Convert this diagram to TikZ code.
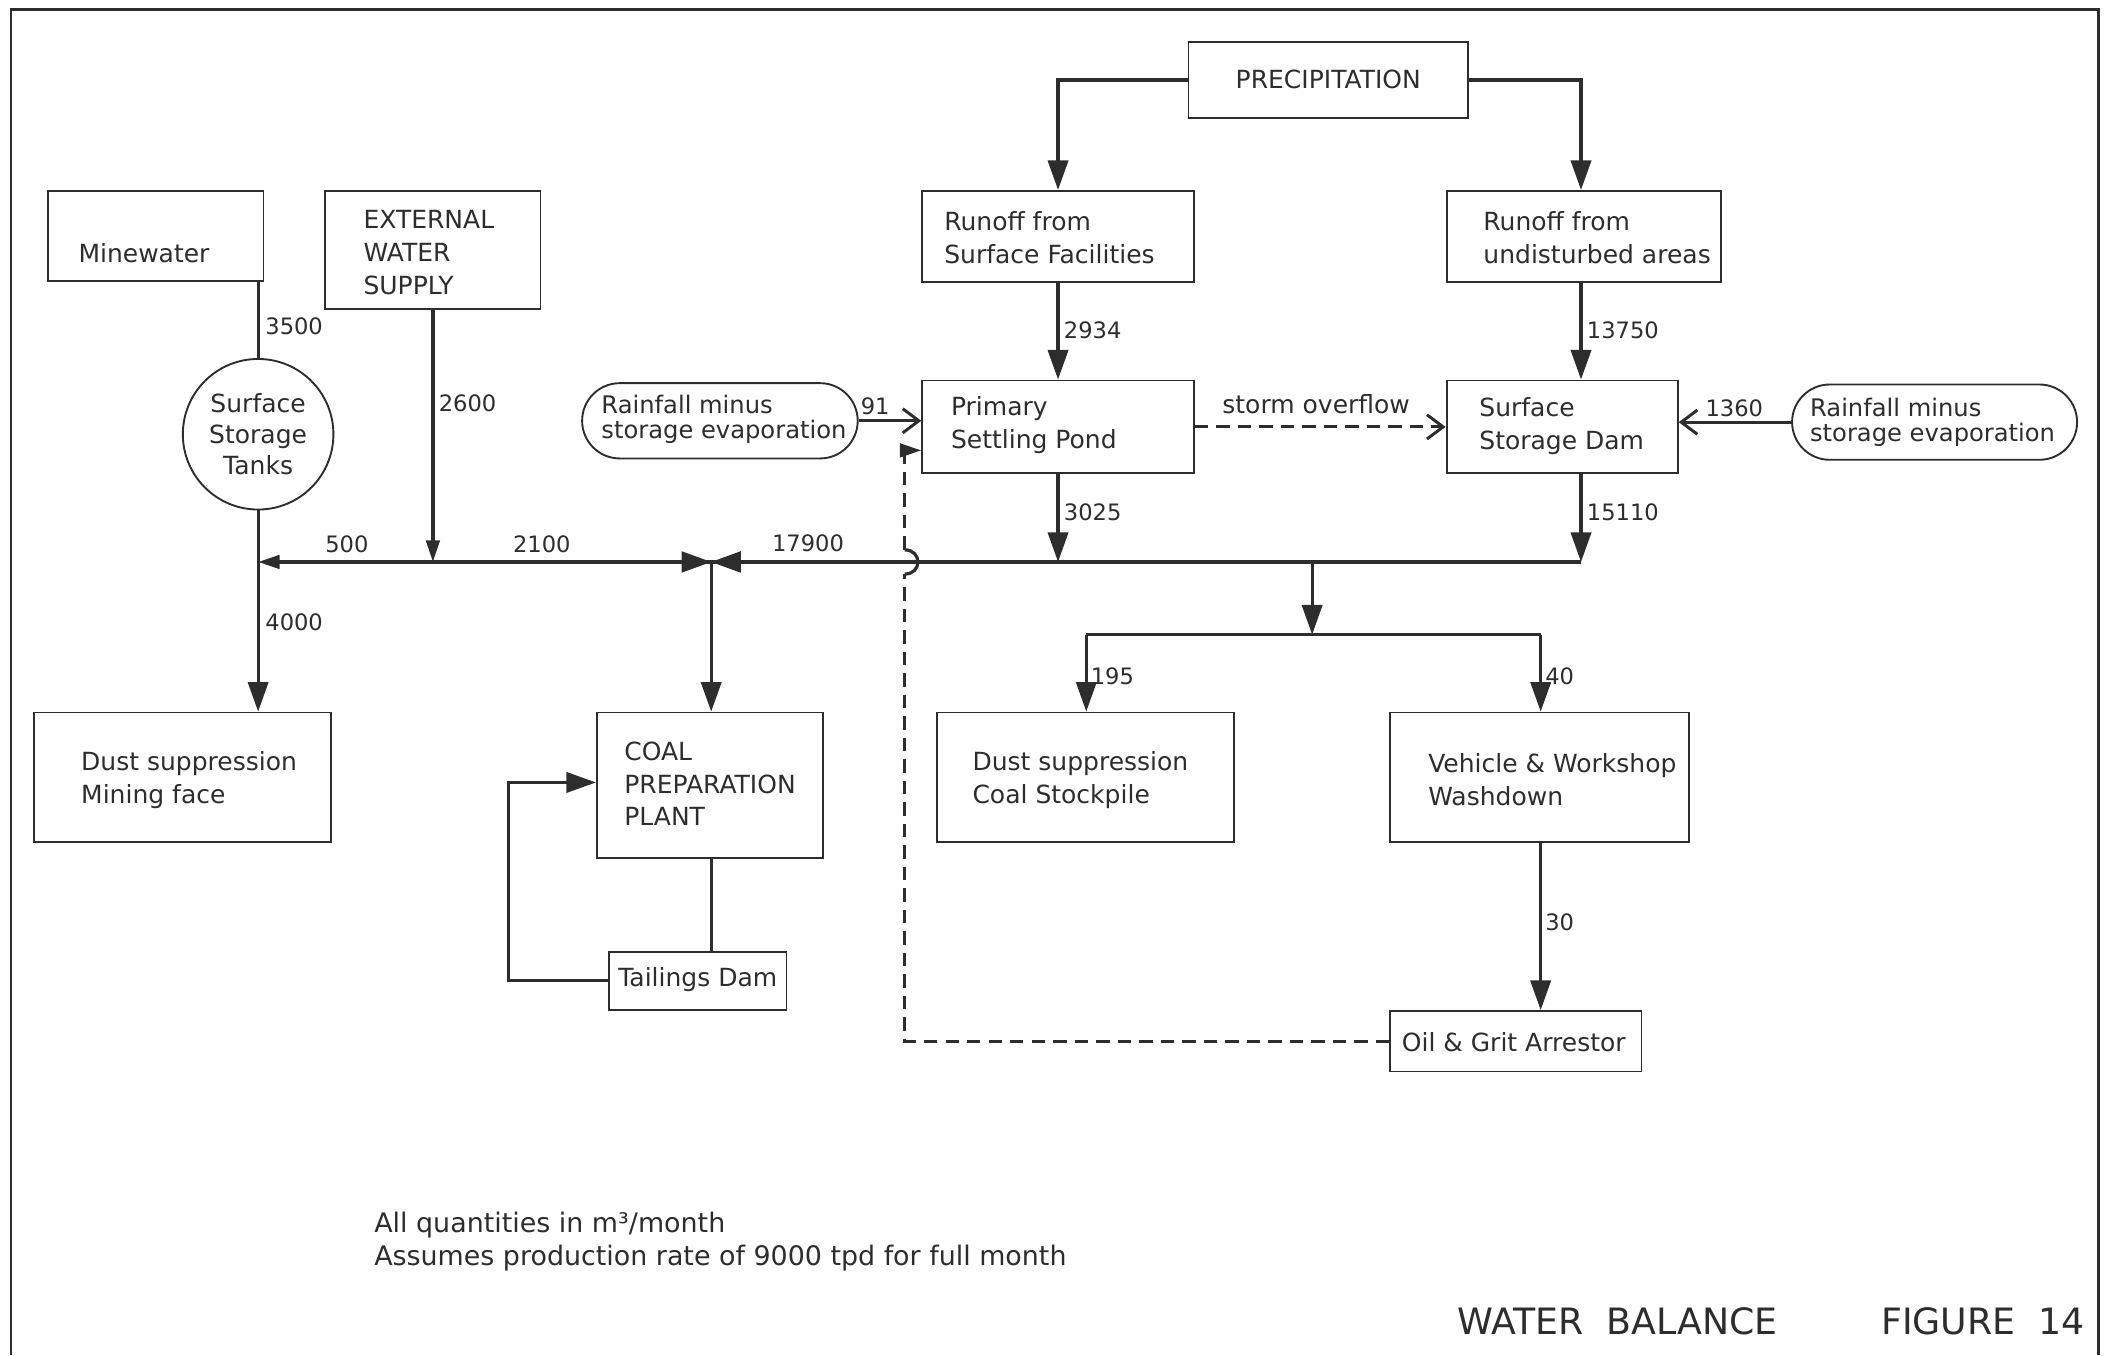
\documentclass[tikz,border=0pt]{standalone}
\usepackage{fontspec}
\setmainfont{DejaVu Sans}
\usetikzlibrary{arrows.meta,fit,calc}
\definecolor{ink}{RGB}{45,45,45}
\begin{document}
\begin{tikzpicture}[x=0.5pt,y=-0.5pt,
  box/.style={draw=ink, line width=0.7pt, inner sep=0pt},
  txt/.style={font=\fontsize{9.3}{12.2}\selectfont, align=left, inner sep=0pt, text=ink},
  rtxt/.style={font=\fontsize{9.0}{9.4}\selectfont, align=left, inner sep=0pt, text=ink},
  num/.style={font=\fontsize{8.4}{10}\selectfont, inner sep=0pt, text=ink},
  note/.style={font=\fontsize{10}{12}\selectfont, inner sep=0pt, text=ink},
  title/.style={font=\fontsize{13.5}{15}\selectfont, inner sep=0pt, text=ink},
  flow/.style={draw=ink, line width=1.2pt},
  arr/.style={-{Triangle[length=11pt,width=7.5pt]}},
  sarr/.style={-{Triangle[length=8pt,width=5pt]}},
  barb/.style={-{Straight Barb[length=6pt,width=9pt,line width=1.1pt]}},
  dsh/.style={dash pattern=on 5pt off 3pt}
]
\useasboundingbox (0,0) rectangle (1568,1008);
% frame
\draw[ink, line width=0.9pt] (8,1008) -- (8,7) -- (1561,7) -- (1561,1008);

% boxes
\node[box, fit={(884,31)(1092,88)}] (prec) {};
\node[txt] at (988,59) {PRECIPITATION};
\node[box, fit={(686,142)(888,210)}] (rsf) {};
\node[txt, anchor=west] at (702,177) {Runoff from\\Surface Facilities};
\node[box, fit={(1076,142)(1280,210)}] (rua) {};
\node[txt, anchor=west] at (1103,177) {Runoff from\\undisturbed areas};
\node[box, fit={(36,142)(196,209)}] (mine) {};
\node[txt, anchor=west] at (58,188) {Minewater};
\node[box, fit={(242,142)(402,230)}] (ext) {};
\node[txt, anchor=west] at (270,188) {EXTERNAL\\WATER\\SUPPLY};
\node[draw=ink, line width=0.7pt, circle, minimum size=56pt, inner sep=0pt,
      font=\fontsize{9.3}{11.5}\selectfont, align=center, text=ink] (tanks) at (192,323) {Surface\\Storage\\Tanks};
\node[box, rounded corners=14pt, fit={(433,285)(638,341)}] (rfl) {};
\node[rtxt, anchor=west] at (447,312) {Rainfall minus\\storage evaporation};
\node[box, fit={(686,283)(888,352)}] (psp) {};
\node[txt, anchor=west] at (707,316) {Primary\\Settling Pond};
\node[box, fit={(1076,283)(1248,352)}] (dam) {};
\node[txt, anchor=west] at (1100,317) {Surface\\Storage Dam};
\node[box, rounded corners=14pt, fit={(1333,286)(1545,342)}] (rfr) {};
\node[rtxt, anchor=west] at (1346,314) {Rainfall minus\\storage evaporation};
\node[box, fit={(25,530)(246,626)}] (dmf) {};
\node[txt, anchor=west] at (60,580) {Dust suppression\\Mining face};
\node[box, fit={(444,530)(612,638)}] (cpp) {};
\node[txt, anchor=west] at (464,583) {COAL\\PREPARATION\\PLANT};
\node[box, fit={(453,708)(585,751)}] (td) {};
\node[txt] at (519,729) {Tailings Dam};
\node[box, fit={(697,530)(918,626)}] (dcs) {};
\node[txt, anchor=west] at (723,580) {Dust suppression\\Coal Stockpile};
\node[box, fit={(1034,530)(1256,626)}] (vw) {};
\node[txt, anchor=west] at (1062,580) {Vehicle \& Workshop\\Washdown};
\node[box, fit={(1034,752)(1221,797)}] (og) {};
\node[txt] at (1126,775) {Oil \& Grit Arrestor};

% coordinates
\coordinate (jL) at (192,418);
\coordinate (jE) at (322,418);
\coordinate (valve) at (529,418);
\coordinate (hopB) at (673,427);
\coordinate (hopT) at (673,409);
\coordinate (jP) at (787,418);
\coordinate (jB) at (976,418);
\coordinate (jD) at (1176,418);
\coordinate (bB) at (976,472);
\coordinate (bL) at (808,472);
\coordinate (bR) at (1146,472);
\coordinate (dC) at (673,335);
\coordinate (tl) at (378,582);

% connectors
\draw[flow,arr] (prec.west) -| (rsf.north);
\draw[flow,arr] (prec.east) -| (rua.north -| jD);
\draw[flow,arr] (rsf.south) -- (psp.north);
\draw[flow,arr] (rua.south -| jD) -- (dam.north -| jD);
\draw[flow,arr] (psp.south) -- (jP);
\draw[flow,arr] (dam.south -| jD) -- (jD);
\draw[flow] (mine.south -| tanks.north) -- (tanks.north);
\draw[flow,arr] (tanks.south) -- (tanks.south |- dmf.north);
\draw[flow,sarr] (ext.south) -- (jE);
\draw[flow,sarr] (jD) -- (jL);
\fill[ink] (507,410) -- (551,426) -- (551,410) -- (507,426) -- cycle;
\draw[flow,arr] (valve) -- (valve |- cpp.north);
\draw[flow] (cpp.south -| valve) -- (td.north -| valve);
\draw[flow,arr] (td.west) -| (tl) -- (cpp.west |- tl);
\draw[flow,arr] (jB) -- (bB);
\draw[flow] (bL) -- (bR);
\draw[flow,arr] (bL) -- (bL |- dcs.north);
\draw[flow,arr] (bR) -- (bR |- vw.north);
\draw[flow,arr] (vw.south -| bR) -- (og.north -| bR);
\draw[flow,dsh] (og.west) -| (hopB);
\draw[flow] (hopB) .. controls (686,427) and (686,409) .. (hopT);
\draw[flow,dsh,sarr] (hopT) -- (dC) -- (dC -| psp.west);
\draw[flow,barb] (rfl.east) -- (rfl.east -| psp.west);
\draw[flow,dsh,barb] (psp.east) -- (dam.west);
\draw[flow,barb] (rfr.west) -- (rfr.west -| dam.east);

% labels
\node[num,anchor=west] at (197,243) {3500};
\node[num,anchor=west] at (326,300) {2600};
\node[num,anchor=west] at (197,463) {4000};
\node[num] at (258,405) {500};
\node[num] at (403,405) {2100};
\node[num] at (601,404) {17900};
\node[num] at (651,302) {91};
\node[num,anchor=west] at (791,246) {2934};
\node[num,anchor=west] at (791,381) {3025};
\node[num,anchor=west] at (1180,246) {13750};
\node[num,anchor=west] at (1180,381) {15110};
\node[num] at (1290,304) {1360};
\node[txt] at (979,301) {storm overflow};
\node[num,anchor=west] at (811,503) {195};
\node[num,anchor=west] at (1149,503) {40};
\node[num,anchor=west] at (1149,686) {30};

% notes
\node[note,anchor=west] at (278,911) {All quantities in m³/month};
\node[note,anchor=west] at (278,936) {Assumes production rate of 9000 tpd for full month};
\node[title] at (1203,983) {WATER\ \ BALANCE};
\node[title] at (1475,983) {FIGURE\ \ 14};
\end{tikzpicture}
\end{document}
